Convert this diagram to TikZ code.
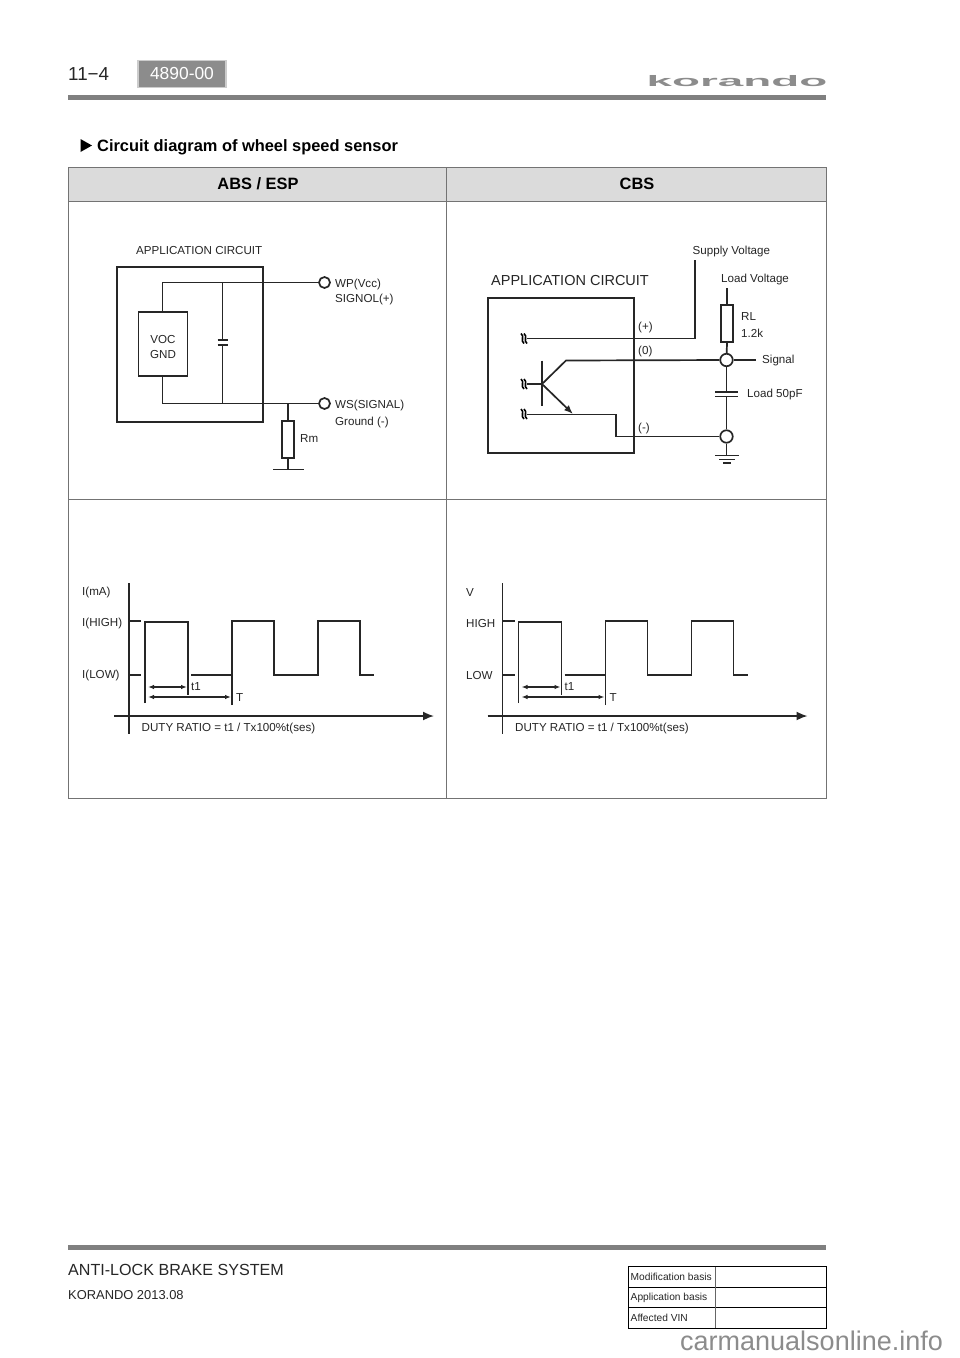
\documentclass[tikz,border=0pt]{standalone}
\usepackage{fontspec}
\setmainfont{Liberation Sans}
\usetikzlibrary{arrows.meta}
\tikzset{
 px/.style={x=1pt,y=-1pt},
 wire/.style={draw=black!85,line width=1.7pt},
 thin wire/.style={draw=black!85,line width=1.3pt},
 lab/.style={inner sep=0pt,anchor=west,yshift=-.8pt,font=\fontsize{11.6}{13}\selectfont,text=black!85},
 term/.style={circle,draw=black!85,fill=white,line width=1.7pt,minimum size=11pt,inner sep=0pt},
 termb/.style={circle,draw=black!85,fill=white,line width=1.7pt,minimum size=12.5pt,inner sep=0pt},
 cellb/.style={draw=black!55,line width=1pt},
 dim/.style={draw=black!85,line width=1.2pt,{Latex[length=6pt,width=4.5pt]}-{Latex[length=6pt,width=4.5pt]}},
 rule/.style={fill=black!50,draw=none},
 infocell/.style={draw=black,line width=.9pt},
 infolab/.style={inner sep=0pt,anchor=west,font=\fontsize{10.2}{12}\selectfont,text=black!85},
}
\newcommand{\wave}[1]{
\begin{scope}[shift={(#1,0)}]
 \coordinate (yt) at (129,583); \coordinate (yb) at (129,734);
 \draw[wire] (yt) -- (yb);
 \coordinate (xa) at (114,716); \coordinate (xb) at (434,716);
 \draw[wire,-{Latex[length=11pt,width=9pt]}] (xa) -- (xb);
 \draw[wire] (129,621) -- (141,621);
 \draw[wire] (129,675) -- (141,675);
 \draw[wire] (145,703) -- (145,622) -- (188,622) -- (188,695);
 \draw[wire] (191,675) -- (232,675);
 \draw[wire] (232,705) -- (232,621) -- (274,621) -- (274,675) -- (318,675) -- (318,621) -- (360,621) -- (360,675) -- (374,675);
 \draw[dim] (148,687) -- (187,687);
 \draw[dim] (148,697) -- (231,697);
 \node[lab] at (191,686) {t1};
 \node[lab] at (236,697) {T};
 \node[lab] at (141.5,727.5) {DUTY RATIO = t1 / Tx100\%t(ses)};
\end{scope}}
\begin{document}
\begin{tikzpicture}[px]
\useasboundingbox (0,0) rectangle (960,1358);
\fill[white] (0,0) rectangle (960,1358);
% header
\node[inner sep=0pt,anchor=west,font=\fontsize{18.8}{22}\selectfont,text=black!85] (pg) at (68,74.5) {11−4};
\node[draw=black!20,line width=1.2pt,fill=black!45,minimum width=88pt,minimum height=27pt,inner sep=0pt,text=white,font=\fontsize{17.4}{19}\selectfont] (code) at (182,74) {4890-00};
\fill[rule] (68,95) rectangle (826,100);
% logo
\node[inner sep=0pt,anchor=center,font=\bfseries\fontsize{19}{20}\selectfont,text=black!45,xscale=2.41,yscale=.8] (logo) at (737,81) {korando};
% title
\fill[black] (80.5,139) -- (92,145.5) -- (80.5,152) -- cycle;
\node[inner sep=0pt,anchor=west,font=\bfseries\fontsize{16.4}{18}\selectfont] (title) at (97,147) {Circuit diagram of wheel speed sensor};
% table
\fill[black!14] (68,167) rectangle (826,201);
\draw[cellb] (68,167) rectangle (826,798);
\draw[cellb] (446.5,167) -- (446.5,798);
\draw[cellb] (68,201) -- (826,201);
\draw[cellb] (68,499) -- (826,499);
\node[inner sep=0pt,font=\bfseries\fontsize{16.4}{18}\selectfont] (h1) at (258,184) {ABS / ESP};
\node[inner sep=0pt,font=\bfseries\fontsize{16.4}{18}\selectfont] (h2) at (637,184) {CBS};
% left circuit
\node[lab] (ac1) at (136,250) {APPLICATION CIRCUIT};
\draw[wire] (117,267) rectangle (263,422);
\node[draw=black!85,line width=1.7pt,minimum width=49pt,minimum height=64pt,inner sep=0pt,fill=white] (voc) at (163,344) {};
\node[lab,anchor=center,align=center,font=\fontsize{11.6}{15.5}\selectfont] at (163,346) {VOC\\GND};
\node[term] (wp) at (324.5,282.5) {};
\node[term] (ws) at (324.5,403.5) {};
\draw[wire] (162.5,312) -- (162.5,282.5) -- (wp);
\draw[wire] (162.5,376) -- (162.5,403.5) -- (ws);
\coordinate (c1t) at (222.5,282.5); \coordinate (c1b) at (222.5,403.5);
\draw[wire] (c1t) -- (222.5,340) (222.5,345) -- (c1b);
\draw[wire] (217.5,340) -- (227.5,340) (217.5,345) -- (227.5,345);
\node[lab] at (335,283.5) {WP(Vcc)};
\node[lab] at (335,299) {SIGNOL(+)};
\node[lab] at (335,405) {WS(SIGNAL)};
\node[lab] at (335,421.5) {Ground (-)};
\node[draw=black!85,line width=1.7pt,minimum width=12pt,minimum height=37pt,inner sep=0pt] (rm) at (288,439.5) {};
\coordinate (rmt) at (288,403.5);
\draw[wire] (rmt) -- (rm.north);
\draw[wire] (rm.south) -- (288,469);
\draw[wire] (273,469.5) -- (304,469.5);
\node[lab] at (300,438) {Rm};
% right circuit
\node[lab,font=\fontsize{14.5}{16}\selectfont] (ac2) at (491,280) {APPLICATION CIRCUIT};
\draw[wire] (488,298) rectangle (634,453);
\node[lab] at (692.5,250.5) {Supply Voltage};
\node[lab] at (721,279) {Load Voltage};
\node[termb] (sig) at (726.5,360) {};
\node[termb] (gnd) at (726.5,436.5) {};
\node[draw=black!85,line width=1.7pt,minimum width=12pt,minimum height=37pt,inner sep=0pt] (rl) at (727,323.5) {};
\coordinate (lv) at (727,288);
\draw[wire] (lv) -- (rl.north);
\draw[wire] (rl.south) -- (sig);
\draw[wire] (sig) -- (756,360);
\node[lab] at (741,316) {RL};
\node[lab] at (741,332.5) {1.2k};
\node[lab] at (762,359.5) {Signal};
\node[lab] at (747,394) {Load 50pF};
\draw[wire] (sig) -- (726.5,392) (726.5,396.5) -- (gnd);
\draw[wire] (715,392) -- (738,392) (715,396.5) -- (738,396.5);
\draw[wire] (gnd) -- (726.5,455.5);
\draw[wire] (715,455.5) -- (739,455.5);
\draw[thin wire] (719,459.5) -- (735,459.5);
\draw[thin wire] (723,463) -- (731,463);
\node[lab] at (638,327) {(+)};
\node[lab] at (638,351) {(0)};
\node[lab] at (638,428) {(-)};
\draw[wire] (527,338.5) -- (695,338.5) -- (695,260);
\draw[wire] (542,360.5) -- (542,406);
\draw[wire] (527,384) -- (542,384);
\draw[wire] (542,384) -- (566,360.5) -- (sig);
\draw[wire,-{Latex[length=9pt,width=7pt]}] (542,384) -- (573,414);
\draw[wire] (527,414.5) -- (616,414.5) -- (616,436.5) -- (gnd);
\foreach \yy in {338.5,384,414}{
 \draw[line width=1.6pt,black] (521,\yy-5) .. controls (525,\yy-2) and (520,\yy+2) .. (524,\yy+5);
 \draw[line width=1.6pt,black] (524,\yy-5) .. controls (528,\yy-2) and (523,\yy+2) .. (527,\yy+5);
}
% waveforms
\wave{0}
\node[lab] at (82,592) {I(mA)};
\node[lab] at (82,622.5) {I(HIGH)};
\node[lab] at (82,675) {I(LOW)};
\wave{373.5}
\node[lab] at (466,592) {V};
\node[lab] at (466,622.5) {HIGH};
\node[lab] at (466,675) {LOW};
% footer
\fill[rule] (68,1245) rectangle (826,1250);
\node[inner sep=0pt,anchor=west,font=\fontsize{16.1}{18}\selectfont,text=black!85] (ft1) at (68,1270) {ANTI-LOCK BRAKE SYSTEM};
\node[inner sep=0pt,anchor=west,font=\fontsize{12.9}{14}\selectfont,text=black!85] (ft2) at (68,1295) {KORANDO 2013.08};
\draw[infocell] (628,1266.5) rectangle (826.5,1328);
\draw[infocell] (628,1287) -- (826.5,1287) (628,1307.5) -- (826.5,1307.5);
\draw[infocell,draw=black!60] (715.5,1266.5) -- (715.5,1328);
\node[infolab] at (630.5,1277) {Modification basis};
\node[infolab] at (630.5,1298) {Application basis};
\node[infolab] at (630.5,1318) {Affected VIN};
\node[inner sep=0pt,anchor=west,font=\fontsize{27}{29}\selectfont,text=black!45] (wm) at (680,1341) {carmanualsonline.info};
\end{tikzpicture}
\end{document}
